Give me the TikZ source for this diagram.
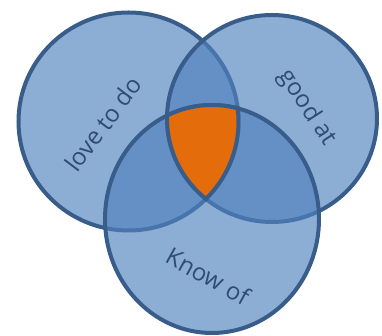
\documentclass[tikz,border=0pt]{standalone}
\usepackage{fontspec}
\setmainfont{Open Sans}
\usepackage{xcolor}
\definecolor{setblue}{HTML}{4F81BD}
\definecolor{rim}{HTML}{385D8A}
\definecolor{ink}{HTML}{2F4C73}
\definecolor{core}{HTML}{E46C0A}

\begin{document}
\begin{tikzpicture}[
      x = 1pt, y = 1pt, % one unit per pixel
      line width = 4pt, % rim thickness
    ]

    \tikzstyle{ring}=[
      draw = rim,
      fill = setblue,
      fill opacity = 0.65
    ]
    \tikzstyle{setlabel}=[
      text = ink,
      font = \fontsize{24}{24}\selectfont
    ]

    \useasboundingbox (0, 0) rectangle (382, 336);

    \path[ring] (128.5, 214.5) ellipse [x radius = 110, y radius = 109];
    \path[ring] (272, 217.5) ellipse [x radius = 105, y radius = 103.5];
    \path[ring] (212, 117) ellipse [x radius = 107, y radius = 114];

    % where all three meet
    \begin{scope}
      \clip (128.5, 214.5) ellipse [x radius = 110, y radius = 109];
      \clip (272, 217.5) ellipse [x radius = 105, y radius = 103.5];
      \fill[core] (212, 117) ellipse [x radius = 107, y radius = 114];
    \end{scope}
    \begin{scope}
      \clip (272, 217.5) ellipse [x radius = 107, y radius = 105.5];
      \clip (212, 117) ellipse [x radius = 109, y radius = 116];
      \draw[rim] (128.5, 214.5) ellipse [x radius = 110, y radius = 109];
    \end{scope}
    \begin{scope}
      \clip (128.5, 214.5) ellipse [x radius = 112, y radius = 111];
      \clip (212, 117) ellipse [x radius = 109, y radius = 116];
      \draw[rim] (272, 217.5) ellipse [x radius = 105, y radius = 103.5];
    \end{scope}
    \begin{scope}
      \clip (128.5, 214.5) ellipse [x radius = 112, y radius = 111];
      \clip (272, 217.5) ellipse [x radius = 107, y radius = 105.5];
      \draw[rim] (212, 117) ellipse [x radius = 107, y radius = 114];
    \end{scope}

    \node[setlabel, rotate = 53] (love) at (103, 212) {love to do};
    \node[setlabel, rotate = -57] (good) at (307, 228) {good at};
    \node[setlabel, rotate = -29] (know) at (208, 60) {Know of};
  \end{tikzpicture}
\end{document}
